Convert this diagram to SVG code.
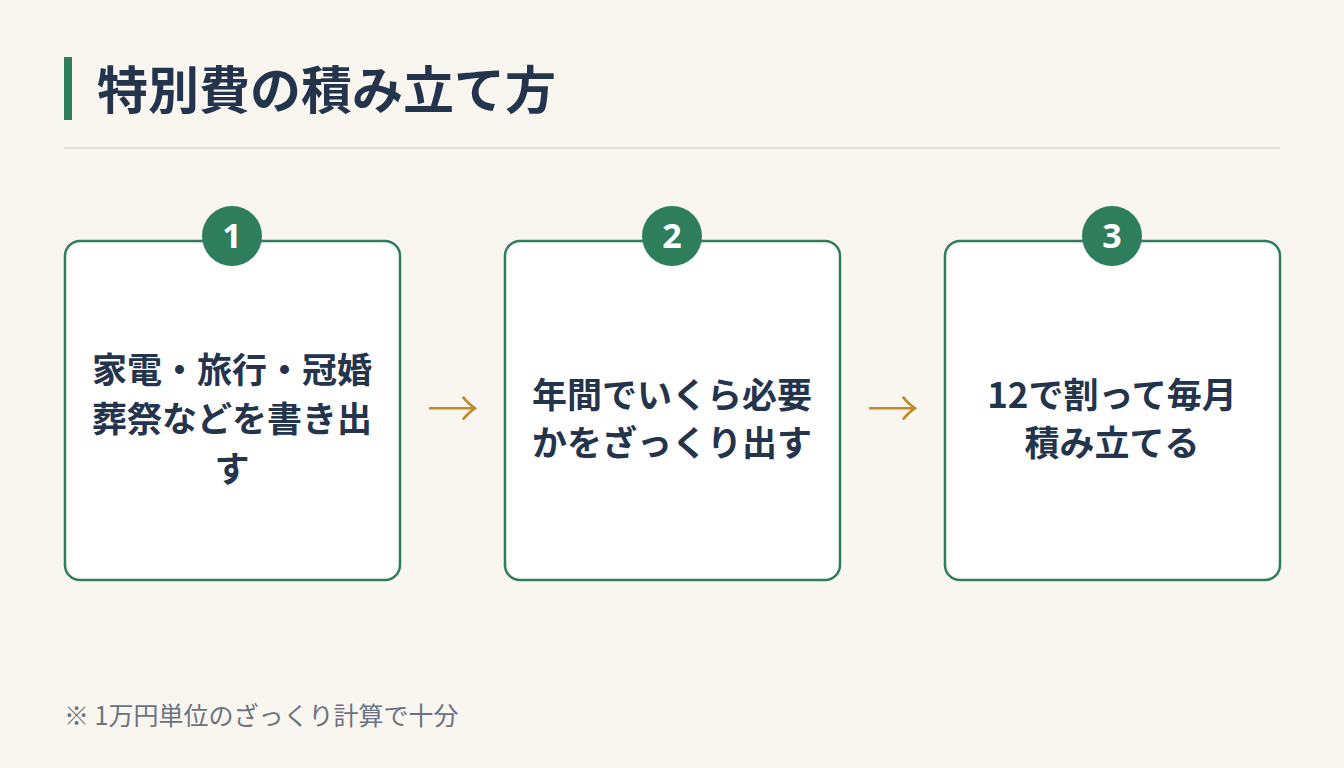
<svg xmlns="http://www.w3.org/2000/svg" width="1344" height="768" viewBox="0 0 1344 768">
<style>
.t{font-family:"Noto Sans CJK JP","Noto Sans",sans-serif;font-weight:700;fill:#24344d}
.card{fill:#fff;stroke:#2e7d5b;stroke-width:2.5}
.num{fill:#2e7d5b}
.nt{font-family:"Noto Sans","Noto Sans CJK JP",sans-serif;font-weight:700;font-size:34px;fill:#fff;text-anchor:middle}
.bt{font-size:35px;text-anchor:middle}
.ar{font-family:"Noto Sans CJK JP",sans-serif;font-size:52px;font-weight:300;fill:#c08a2a;text-anchor:middle}
</style>
<rect width="1344" height="768" fill="#f9f6ef"/>
<rect x="64" y="57" width="8" height="63" fill="#2e7d5b"/>
<text class="t" x="97" y="109" font-size="51">特別費の積み立て方</text>
<rect x="64" y="147" width="1216" height="2" fill="#e0ddd5"/>
<g id="n1"><rect class="card" x="65" y="241" width="335" height="339" rx="15"/><circle class="num" cx="232" cy="236" r="30"/><text class="nt" x="232" y="248">1</text>
<text class="t bt" x="232" y="383">家電・旅行・冠婚</text><text class="t bt" x="232" y="432">葬祭などを書き出</text><text class="t bt" x="232" y="482">す</text></g>
<g id="n2"><rect class="card" x="505" y="241" width="335" height="339" rx="15"/><circle class="num" cx="672" cy="236" r="30"/><text class="nt" x="672" y="248">2</text>
<text class="t bt" x="672" y="408">年間でいくら必要</text><text class="t bt" x="672" y="456">かをざっくり出す</text></g>
<g id="n3"><rect class="card" x="945" y="241" width="335" height="339" rx="15"/><circle class="num" cx="1112" cy="236" r="30"/><text class="nt" x="1112" y="248">3</text>
<text class="t bt" x="1112" y="408">12で割って毎月</text><text class="t bt" x="1112" y="456">積み立てる</text></g>
<g id="connectors"><text class="ar" x="453" y="428">→</text><text class="ar" x="893" y="428">→</text></g>
<text x="64" y="725" font-family="Noto Sans CJK JP,sans-serif" font-size="25" fill="#6b7280">※ 1万円単位のざっくり計算で十分</text>
</svg>
